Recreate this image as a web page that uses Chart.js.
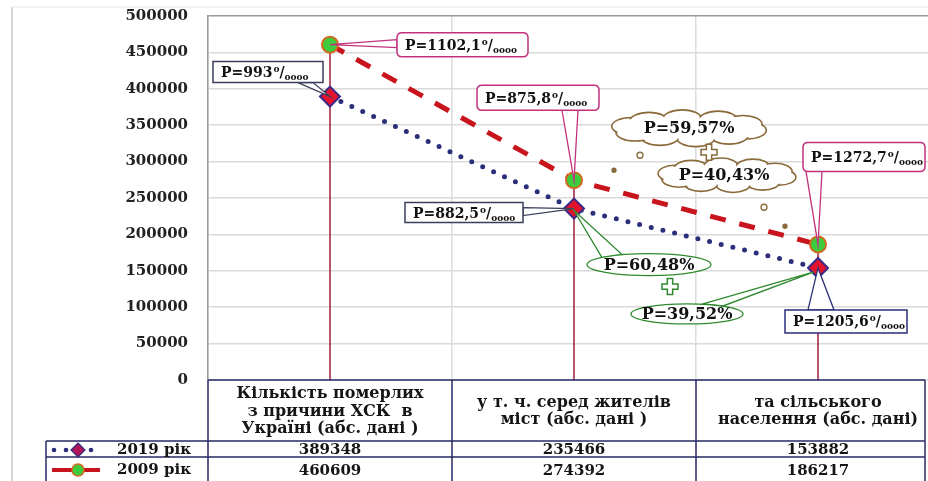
<!DOCTYPE html>
<html>
<head>
<meta charset="utf-8">
<script src="https://cdn.jsdelivr.net/npm/chart.js@4/dist/chart.umd.min.js"></script>
<style>
  html, body { margin: 0; padding: 0; background: #fff; overflow: hidden; }
  canvas { display: block; }
</style>
</head>
<body>
<canvas id="chart" width="928" height="481"></canvas>
<script>
// Data
const categories = ['col0', 'col1', 'col2'];
const headerLines = [
    ['Кількість померлих', 'з причини ХСК  в', 'Україні (абс. дані )'],
    ['у т. ч. серед жителів', 'міст (абс. дані )'],
    ['та сільського', 'населення (абс. дані)']
];
const deaths2019 = [389348, 235466, 153882];
const deaths2009 = [460609, 274392, 186217];
const seriesNames = ['2019 рік', '2009 рік'];
const rate2019 = ['993', '882,5', '1205,6'];
const rate2009 = ['1102,1', '875,8', '1272,7'];
const share2019 = ['60,48%', '39,52%'];
const share2009 = ['59,57%', '40,43%'];
const yTicks = [0, 50000, 100000, 150000, 200000, 250000, 300000, 350000, 400000, 450000, 500000];

const FONT = '"DejaVu Serif", "Liberation Serif", serif';
const NAVY = '#2b2f7a';
const RED = '#c8141c';
const PINK = '#c2307e';
const GREEN = '#2f8a2f';
const BROWN = '#8a6a3a';

// callout boxes: [dataset, index, box dx, box dy, width, height, wedge side, border, rounded]
const rateBoxes = [
    [0, 0, -117, -35, 110, 21, 'bottom', '#3a3f5a', false],
    [1, 0, 67, -12, 131, 24, 'left', PINK, true],
    [1, 1, -97, -95, 122, 25, 'bottom', PINK, true],
    [0, 1, -169, -6, 118, 20, 'right', '#3a3f5a', false],
    [1, 2, -15, -102, 122, 29, 'bottom', PINK, true],
    [0, 2, -33, 42, 122, 23, 'top', NAVY, false]
];

function drawRateText(ctx, x, y, value) {
    ctx.fillStyle = '#111';
    ctx.textBaseline = 'alphabetic';
    ctx.textAlign = 'left';
    ctx.font = 'bold 14px ' + FONT;
    const main = 'P=' + value;
    ctx.fillText(main, x, y);
    let cx = x + ctx.measureText(main).width + 1;
    ctx.font = 'bold 9px ' + FONT;
    ctx.fillText('o', cx, y - 5);
    cx += ctx.measureText('o').width;
    ctx.font = 'bold 14px ' + FONT;
    ctx.fillText('/', cx, y);
    cx += ctx.measureText('/').width;
    ctx.font = 'bold 9px ' + FONT;
    ctx.fillText('oooo', cx, y + 3);
}

function roundRect(ctx, x, y, w, h, r) {
    ctx.beginPath();
    ctx.moveTo(x + r, y);
    ctx.lineTo(x + w - r, y);
    ctx.quadraticCurveTo(x + w, y, x + w, y + r);
    ctx.lineTo(x + w, y + h - r);
    ctx.quadraticCurveTo(x + w, y + h, x + w - r, y + h);
    ctx.lineTo(x + r, y + h);
    ctx.quadraticCurveTo(x, y + h, x, y + h - r);
    ctx.lineTo(x, y + r);
    ctx.quadraticCurveTo(x, y, x + r, y);
    ctx.closePath();
}

// scalloped cloud: bumps on an ellipse, stroked, then the inside painted white
function drawCloud(ctx, cx, cy, rx, ry, color) {
    const n = 10;
    const bumps = [];
    for (let k = 0; k < n; k++) {
        const a = (k / n) * Math.PI * 2 + 0.2;
        bumps.push([cx + Math.cos(a) * rx * 0.8, cy + Math.sin(a) * ry * 0.6]);
    }
    const brx = rx * 0.26, bry = ry * 0.55;
    ctx.fillStyle = '#fff';
    ctx.strokeStyle = color;
    ctx.lineWidth = 1.6;
    bumps.forEach(([x, y]) => {
        ctx.beginPath();
        ctx.ellipse(x, y, brx, bry, 0, 0, Math.PI * 2);
        ctx.fill();
        ctx.stroke();
    });
    bumps.forEach(([x, y]) => {
        ctx.beginPath();
        ctx.ellipse(x, y, brx - 1.6, bry - 1.6, 0, 0, Math.PI * 2);
        ctx.fill();
    });
    ctx.beginPath();
    ctx.ellipse(cx, cy, rx * 0.8, ry * 0.6, 0, 0, Math.PI * 2);
    ctx.fill();
}

function drawPlus(ctx, cx, cy, s, color) {
    const t = s / 3;
    ctx.beginPath();
    ctx.moveTo(cx - t / 2, cy - s / 2);
    ctx.lineTo(cx + t / 2, cy - s / 2);
    ctx.lineTo(cx + t / 2, cy - t / 2);
    ctx.lineTo(cx + s / 2, cy - t / 2);
    ctx.lineTo(cx + s / 2, cy + t / 2);
    ctx.lineTo(cx + t / 2, cy + t / 2);
    ctx.lineTo(cx + t / 2, cy + s / 2);
    ctx.lineTo(cx - t / 2, cy + s / 2);
    ctx.lineTo(cx - t / 2, cy + t / 2);
    ctx.lineTo(cx - s / 2, cy + t / 2);
    ctx.lineTo(cx - s / 2, cy - t / 2);
    ctx.lineTo(cx - t / 2, cy - t / 2);
    ctx.closePath();
    ctx.fillStyle = '#fff';
    ctx.fill();
    ctx.strokeStyle = color;
    ctx.lineWidth = 1.5;
    ctx.stroke();
}

function drawEllipseLabel(ctx, cx, cy, rx, ry, text, color, tip, base1, base2) {
    ctx.beginPath();
    ctx.moveTo(base1[0], base1[1]);
    ctx.lineTo(tip[0], tip[1]);
    ctx.lineTo(base2[0], base2[1]);
    ctx.closePath();
    ctx.fillStyle = '#fff';
    ctx.fill();
    ctx.strokeStyle = color;
    ctx.lineWidth = 1.3;
    ctx.stroke();
    ctx.beginPath();
    ctx.ellipse(cx, cy, rx, ry, 0, 0, Math.PI * 2);
    ctx.fill();
    ctx.stroke();
    ctx.fillStyle = '#111';
    ctx.font = 'bold 16px ' + FONT;
    ctx.textAlign = 'center';
    ctx.textBaseline = 'middle';
    ctx.fillText(text, cx, cy + 1);
}

// the plot runs on past the right edge of the picture, as in the original
const widenPlot = {
    id: 'widenPlot',
    afterLayout(chart) {
        const area = chart.chartArea;
        const xs = chart.scales.x;
        area.right = chart.width + 12;
        area.width = area.right - area.left;
        xs.left = area.left;
        xs.right = area.right;
        xs.width = area.width;
        xs.configure();
    }
};

// vertical drop lines from the upper marker to the axis
const dropLines = {
    id: 'dropLines',
    beforeDatasetsDraw(chart) {
        const ctx = chart.ctx;
        const y = chart.scales.y;
        ctx.save();
        ctx.strokeStyle = '#a01e3c';
        ctx.lineWidth = 1.5;
        categories.forEach((c, i) => {
            const x = chart.scales.x.getPixelForValue(i);
            const top = y.getPixelForValue(Math.max(deaths2019[i], deaths2009[i]));
            ctx.beginPath();
            ctx.moveTo(x, top);
            ctx.lineTo(x, y.bottom);
            ctx.stroke();
        });
        ctx.restore();
    }
};

const callouts = {
    id: 'callouts',
    afterDatasetsDraw(chart) {
        const ctx = chart.ctx;
        ctx.save();
        const pt = (d, i) => chart.getDatasetMeta(d).data[i];
        rateBoxes.forEach(([d, i, dx, dy, w, h, side, color, rounded]) => {
            const p = pt(d, i);
            const bx = p.x + dx, by = p.y + dy;
            let a, b;
            if (side === 'bottom') { a = [p.x - 12, by + h]; b = [p.x + 4, by + h]; }
            if (side === 'top') { a = [p.x - 10, by]; b = [p.x + 16, by]; }
            if (side === 'left') { a = [bx, by + 7]; b = [bx, by + 15]; }
            if (side === 'right') { a = [bx + w, by + 5]; b = [bx + w, by + 13]; }
            if (d === 0 && i === 0) { a = [bx + w - 25, by + h]; b = [bx + w - 10, by + h]; }
            ctx.beginPath();
            ctx.moveTo(a[0], a[1]);
            ctx.lineTo(p.x, p.y);
            ctx.lineTo(b[0], b[1]);
            ctx.closePath();
            ctx.fillStyle = '#fff';
            ctx.fill();
            ctx.strokeStyle = color;
            ctx.lineWidth = 1.3;
            ctx.stroke();
            if (rounded) roundRect(ctx, bx, by, w, h, 5);
            else { ctx.beginPath(); ctx.rect(bx, by, w, h); }
            ctx.fill();
            ctx.lineWidth = 1.5;
            ctx.stroke();
            const vals = d === 0 ? rate2019 : rate2009;
            drawRateText(ctx, bx + 8, by + h / 2 + 5, vals[i]);
        });

        // brown clouds for the 2009 shares
        const q = pt(1, 1);
        ctx.strokeStyle = BROWN;
        ctx.lineWidth = 1.3;
        [[66, -25, 3, false], [40, -10, 2, true], [190, 27, 3, false], [211, 46, 2, true]].forEach(([dx, dy, r, filled]) => {
            ctx.beginPath();
            ctx.arc(q.x + dx, q.y + dy, r, 0, Math.PI * 2);
            ctx.fillStyle = filled ? BROWN : '#fff';
            ctx.fill();
            ctx.stroke();
        });
        drawCloud(ctx, q.x + 115, q.y - 52, 74, 16, BROWN);
        drawCloud(ctx, q.x + 153, q.y - 5, 66, 15, BROWN);
        ctx.fillStyle = '#111';
        ctx.font = 'bold 16px ' + FONT;
        ctx.textAlign = 'center';
        ctx.textBaseline = 'middle';
        ctx.fillText('P=' + share2009[0], q.x + 115, q.y - 51);
        ctx.fillText('P=' + share2009[1], q.x + 150, q.y - 4);
        drawPlus(ctx, q.x + 135, q.y - 28, 16, BROWN);

        // green ellipses for the 2019 shares
        const m = pt(0, 1), r = pt(0, 2);
        drawEllipseLabel(ctx, m.x + 75, m.y + 56, 62, 11, 'P=' + share2019[0], GREEN,
            [m.x, m.y + 2], [m.x + 28, m.y + 49], [m.x + 48, m.y + 46]);
        drawPlus(ctx, m.x + 96, m.y + 78, 16, GREEN);
        drawEllipseLabel(ctx, r.x - 131, r.y + 46, 56, 10, 'P=' + share2019[1], GREEN,
            [r.x - 4, r.y + 4], [r.x - 115, r.y + 36], [r.x - 95, r.y + 38]);
        ctx.restore();
    }
};

// data table under the plot, with the legend in its first column
const dataTable = {
    id: 'dataTable',
    afterDraw(chart) {
        const ctx = chart.ctx;
        const xs = chart.scales.x;
        const area = chart.chartArea;
        const w = (area.right - area.left) / categories.length;
        const top = area.bottom;
        const rows = [top, top + 61, top + 77, 490];
        const legendLeft = 46;
        const rightEdge = Math.min(area.right, 925);
        ctx.save();

        // outer frame
        ctx.strokeStyle = '#c8c8c8';
        ctx.lineWidth = 1.5;
        ctx.beginPath();
        ctx.moveTo(12, 7); ctx.lineTo(12, 481);
        ctx.stroke();
        ctx.strokeStyle = '#eeeeee';
        ctx.beginPath();
        ctx.moveTo(12, 7); ctx.lineTo(928, 7);
        ctx.stroke();

        ctx.strokeStyle = '#2a2a66';
        ctx.lineWidth = 1.5;
        ctx.beginPath();
        ctx.moveTo(area.left, rows[0]); ctx.lineTo(rightEdge, rows[0]);
        for (let k = 1; k < 3; k++) { ctx.moveTo(legendLeft, rows[k]); ctx.lineTo(rightEdge, rows[k]); }
        ctx.moveTo(legendLeft, rows[1]); ctx.lineTo(legendLeft, rows[3]);
        for (let i = 0; i <= categories.length; i++) {
            const x = Math.min(area.left + w * i, rightEdge);
            ctx.moveTo(x, rows[0]); ctx.lineTo(x, rows[3]);
        }
        ctx.stroke();

        ctx.fillStyle = '#151515';
        ctx.textAlign = 'center';
        ctx.textBaseline = 'middle';
        categories.forEach((c, i) => {
            const cx = xs.getPixelForValue(i);
            const lines = headerLines[i];
            const mid = (rows[0] + rows[1]) / 2 + 1;
            ctx.font = 'bold 16px ' + FONT;
            lines.forEach((t, j) => ctx.fillText(t, cx, mid + (j - (lines.length - 1) / 2) * 17.5));
            ctx.font = 'bold 15px ' + FONT;
            ctx.fillText(String(deaths2019[i]), cx, (rows[1] + rows[2]) / 2 + 1);
            ctx.fillText(String(deaths2009[i]), cx, (rows[2] + 481) / 2 + 2);
        });

        // legend keys
        const y1 = (rows[1] + rows[2]) / 2 + 1, y2 = (rows[2] + 481) / 2 + 1;
        ctx.fillStyle = NAVY;
        [54, 66, 91].forEach(x => { ctx.beginPath(); ctx.arc(x, y1, 2.3, 0, Math.PI * 2); ctx.fill(); });
        ctx.beginPath();
        ctx.moveTo(78, y1 - 7); ctx.lineTo(85, y1); ctx.lineTo(78, y1 + 7); ctx.lineTo(71, y1); ctx.closePath();
        ctx.fillStyle = '#b0145a'; ctx.fill();
        ctx.strokeStyle = NAVY; ctx.lineWidth = 1.2; ctx.stroke();
        ctx.strokeStyle = RED; ctx.lineWidth = 4;
        ctx.beginPath(); ctx.moveTo(52, y2); ctx.lineTo(100, y2); ctx.stroke();
        ctx.beginPath(); ctx.arc(78, y2, 6, 0, Math.PI * 2);
        ctx.fillStyle = '#3ecb3e'; ctx.fill();
        ctx.strokeStyle = '#d2691e'; ctx.lineWidth = 1.5; ctx.stroke();
        ctx.fillStyle = '#151515';
        ctx.textAlign = 'left';
        ctx.font = 'bold 15px ' + FONT;
        ctx.fillText(seriesNames[0], 117, y1);
        ctx.fillText(seriesNames[1], 117, y2);
        ctx.restore();
    }
};

const ctx = document.getElementById('chart').getContext('2d');
const chart = new Chart(ctx, {
    type: 'line',
    data: {
        labels: categories,
        datasets: [{
            label: seriesNames[0],
            data: deaths2019,
            borderColor: NAVY,
            borderWidth: 5,
            borderDash: [0, 12],
            borderCapStyle: 'round',
            pointStyle: 'rectRot',
            pointRadius: 10,
            pointBackgroundColor: '#e3122d',
            pointBorderColor: '#3b2a85',
            pointBorderWidth: 2
        }, {
            label: seriesNames[1],
            data: deaths2009,
            borderColor: RED,
            borderWidth: 5,
            borderDash: [16, 14],
            pointStyle: 'circle',
            pointRadius: 8,
            pointBackgroundColor: '#3ecb3e',
            pointBorderColor: '#d2691e',
            pointBorderWidth: 2
        }]
    },
    options: {
        responsive: false,
        maintainAspectRatio: false,
        animation: false,
        layout: { padding: { top: 16, bottom: 101, left: 0, right: 0 } },
        plugins: { legend: { display: false }, tooltip: { enabled: false } },
        scales: {
            x: {
                offset: true,
                ticks: { display: false },
                grid: { offset: true, drawTicks: false, color: '#dcdcdc', lineWidth: 1.5 },
                border: { display: false },
                afterFit(scale) {
                    scale.height = 0;
                    scale.paddingLeft = 0;
                    scale.paddingRight = 0;
                }
            },
            y: {
                min: 0,
                max: 500000,
                afterBuildTicks(scale) { scale.ticks = yTicks.map(v => ({ value: v })); },
                afterFit(scale) {
                    scale.width = 208;
                    scale.paddingTop = 0;
                    scale.paddingBottom = 0;
                },
                ticks: {
                    padding: 20,
                    color: '#222',
                    font: { family: FONT, size: 15, weight: 'bold' },
                    callback: v => String(v)
                },
                grid: {
                    drawTicks: false,
                    color: c => c.tick && c.tick.value === 500000 ? '#9a9a9a' : '#dadada',
                    lineWidth: 1.5
                },
                border: { color: '#9a9a9a', width: 1.5 }
            }
        }
    },
    plugins: [widenPlot, dropLines, callouts, dataTable]
});
</script>
</body>
</html>
